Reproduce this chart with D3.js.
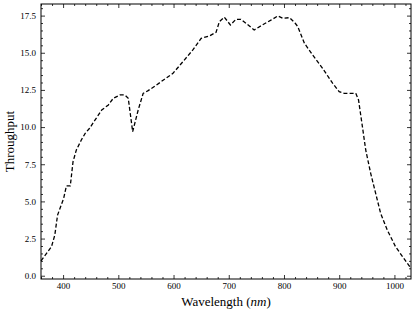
<!DOCTYPE html>
<html>
<head>
<meta charset="utf-8">
<script src="https://cdn.jsdelivr.net/npm/d3@7"></script>
<style>
  body { margin: 0; background: #fff; }
  svg text { font-family: "Liberation Serif", "DejaVu Serif", serif; }
</style>
</head>
<body>
<svg id="chart" width="416" height="313"></svg>
<script>
// throughput curve
const wavelength = [360, 379, 385, 390, 401, 406, 413, 418, 424, 433, 440, 448, 458, 470, 482, 491, 503, 512, 518, 526,
  536, 545, 554, 569, 599, 617, 635, 650, 665, 677, 683, 692, 703, 713, 722, 731, 746, 761, 777, 789,
  798, 810, 820, 825, 837, 852, 870, 888, 900, 909, 930, 935, 942, 948, 957, 966, 975, 987,
  1002, 1017, 1030];
const throughput = [1.0, 1.95, 2.74, 4.08, 5.2, 6.04, 6.04, 7.67, 8.46, 9.13, 9.58, 9.92, 10.48, 11.15, 11.49, 11.94, 12.16, 12.16, 11.94, 9.69,
  11.15, 12.27, 12.45, 12.83, 13.62, 14.4, 15.19, 15.97, 16.13, 16.38, 17.09, 17.39, 16.87, 17.25, 17.25, 16.99, 16.53, 16.87, 17.21, 17.48,
  17.32, 17.36, 17.0, 16.76, 15.64, 14.85, 13.95, 12.95, 12.38, 12.27, 12.27, 11.82, 10.03, 8.46, 6.89, 5.54, 4.2, 3.08,
  1.95, 1.17, 0.5];
const xTicks = [400, 500, 600, 700, 800, 900, 1000];
const yTicks = [0, 2.5, 5, 7.5, 10, 12.5, 15, 17.5];

(function() {
var svg = d3.select("#chart");
var pl = 41, pr = 411, pt = 4, pb = 279;

var x = d3.scaleLinear().domain([360, 1030]).range([pl, pr]);
var y = d3.scaleLinear().domain([-0.22, 18.28]).range([pb, pt]);

var xMinor = d3.range(360, 1031, 20).filter(function(d) { return d % 100 != 0; });
var yMinor = d3.range(0, 18.3, 0.5).filter(function(d) { return Math.abs(d / 2.5 - Math.round(d / 2.5)) > 1e-6; });

function styleAxis(g) {
  g.select(".domain").remove();
  g.selectAll("line").attr("stroke", "#000").attr("stroke-width", 0.8);
  g.selectAll("text").attr("font-size", 9).attr("fill", "#000")
    .attr("font-family", "'Liberation Serif', serif");
}

// bottom + top
svg.append("g").attr("transform", "translate(0," + pb + ")")
  .call(d3.axisBottom(x).tickValues(xTicks).tickSize(-4).tickPadding(4).tickFormat(d3.format("d")))
  .call(styleAxis);
svg.append("g").attr("transform", "translate(0," + pb + ")")
  .call(d3.axisBottom(x).tickValues(xMinor).tickSize(-2).tickFormat(""))
  .call(styleAxis);
svg.append("g").attr("transform", "translate(0," + pt + ")")
  .call(d3.axisTop(x).tickValues(xTicks).tickSize(-4).tickFormat(""))
  .call(styleAxis);
svg.append("g").attr("transform", "translate(0," + pt + ")")
  .call(d3.axisTop(x).tickValues(xMinor).tickSize(-2).tickFormat(""))
  .call(styleAxis);

// left + right
svg.append("g").attr("transform", "translate(" + pl + ",0)")
  .call(d3.axisLeft(y).tickValues(yTicks).tickSize(-4).tickPadding(5).tickFormat(d3.format(".1f")))
  .call(styleAxis);
svg.append("g").attr("transform", "translate(" + pl + ",0)")
  .call(d3.axisLeft(y).tickValues(yMinor).tickSize(-2).tickFormat(""))
  .call(styleAxis);
svg.append("g").attr("transform", "translate(" + pr + ",0)")
  .call(d3.axisRight(y).tickValues(yTicks).tickSize(-4).tickFormat(""))
  .call(styleAxis);
svg.append("g").attr("transform", "translate(" + pr + ",0)")
  .call(d3.axisRight(y).tickValues(yMinor).tickSize(-2).tickFormat(""))
  .call(styleAxis);

// frame
svg.append("rect")
  .attr("x", pl).attr("y", pt)
  .attr("width", pr - pl).attr("height", pb - pt)
  .attr("fill", "none").attr("stroke", "#000").attr("stroke-width", 1);

// curve
var line = d3.line()
  .x(function(d, i) { return x(wavelength[i]); })
  .y(function(d) { return y(d); });

svg.append("path")
  .datum(throughput)
  .attr("d", line)
  .attr("fill", "none")
  .attr("stroke", "#000")
  .attr("stroke-width", 1.3)
  .attr("stroke-dasharray", "4,2.2");

// labels
var xl = svg.append("text")
  .attr("x", (pl + pr) / 2).attr("y", 306)
  .attr("text-anchor", "middle").attr("font-size", 13).attr("fill", "#000");
xl.append("tspan").text("Wavelength (");
xl.append("tspan").attr("font-style", "italic").text("nm");
xl.append("tspan").text(")");

svg.append("text")
  .attr("transform", "translate(14," + (pt + pb) / 2 + ") rotate(-90)")
  .attr("text-anchor", "middle").attr("font-size", 13).attr("fill", "#000")
  .text("Throughput");
})();
</script>
</body>
</html>
